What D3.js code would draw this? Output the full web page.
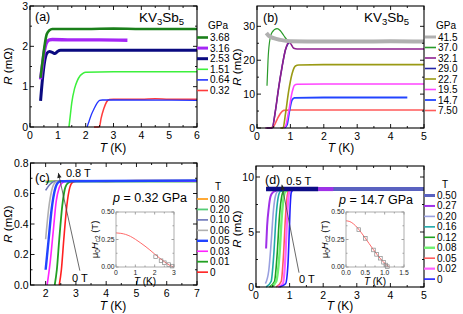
<!DOCTYPE html>
<html><head><meta charset="utf-8">
<script src="https://cdn.jsdelivr.net/npm/d3@7"></script>
<style>
body{margin:0;background:#fff;}
svg{display:block;font-family:"Liberation Sans",Arial,sans-serif;}
</style></head>
<body><svg id="c" width="463" height="314"></svg>
<script>
// ---------- DATA ----------
// Panel (a): R (mOhm) vs T (K) at several pressures (GPa)
const aLabels = ["3.68","3.16","2.53","1.51","0.64","0.32"];
const aColors = ["#1a7f1a","#a526f5","#0a0a80","#3cf03c","#2233ff","#ff3b3b"];
const aWidths = [2.6,3.4,3.0,1.5,1.3,1.5];
const a368 = [[0.38,1.22],[0.45,1.62],[0.52,2.0],[0.6,2.3],[0.7,2.4],[0.8,2.43],[1,2.43],[2,2.43],[3,2.44],[4,2.43],[5,2.43],[6,2.43]];
const a316 = [[0.38,1.18],[0.45,1.55],[0.52,1.9],[0.6,2.1],[0.7,2.16],[0.8,2.17],[1.5,2.16],[2.5,2.16],[3.5,2.15]];
const a253 = [[0.38,0.65],[0.45,1.2],[0.52,1.6],[0.6,1.82],[0.7,1.87],[0.8,1.85],[0.9,1.82],[1.0,1.88],[1.1,1.9],[2,1.9],[4,1.9],[6,1.9]];
const a151 = [[1.4,0],[1.45,0.3],[1.5,0.6],[1.6,0.95],[1.7,1.15],[1.8,1.27],[1.9,1.33],[2.0,1.36],[3,1.37],[6,1.37]];
const a064 = [[2.05,0],[2.1,0.1],[2.2,0.3],[2.3,0.45],[2.4,0.58],[2.5,0.66],[2.6,0.67],[3,0.67],[6,0.66]];
const a032 = [[2.3,0],[2.45,0],[2.5,0.02],[2.55,0.2],[2.65,0.45],[2.75,0.62],[2.85,0.68],[3,0.69],[4,0.69],[4.5,0.7],[5,0.69],[6,0.69]];
const aSeries = [a368,a316,a253,a151,a064,a032];
const aXTicks = [0,1,2,3,4,5,6];
const aYTicks = [0,1,2,3];

// Panel (b)
const bLabels = ["41.5","37.0","32.1","29.0","22.7","19.5","14.7","7.50"];
const bColors = ["#b0b0b0","#2a9a2a","#8e1f8e","#2424a8","#9a9a14","#ff44ff","#2244ff","#ff5a5a"];
const bWidths = [4,1.2,1.6,1.4,1.6,1.6,1.8,1.6];
const b415 = [[0.28,28],[0.35,27.2],[0.5,26.5],[0.7,26],[1.0,25.6],[2,25.5],[3,25.5],[4,25.6],[5,25.5]];
const b370 = [[0.3,12.5],[0.33,20],[0.37,25],[0.45,28.2],[0.6,29.3],[0.7,28.7],[0.8,27.3],[0.9,26],[1.0,25.5],[1.5,25.4]];
const b321 = [[0.25,0],[0.45,0],[0.55,5],[0.65,12],[0.75,18],[0.85,23],[0.95,25.3],[1.0,25],[1.1,23.5],[1.2,23.3],[2,23.3],[5,23.3]];
const b290 = [[0.3,0],[0.45,0],[0.55,5],[0.65,12],[0.75,18],[0.85,23],[0.95,25.2]];
const b227 = [[0.7,0],[0.78,0],[0.85,4],[0.95,11],[1.05,16],[1.15,18.3],[1.25,18.6],[2,18.7],[5,18.7]];
const b195 = [[0.75,0],[0.85,0.5],[0.95,5],[1.05,10.5],[1.12,12.6],[1.2,12.9],[2,13],[5,13]];
const b147 = [[0.82,0],[0.9,1],[0.97,5],[1.05,8.3],[1.12,8.9],[2,9],[4.5,9]];
const b750 = [[0.4,0],[0.5,0.5],[0.6,2.5],[0.7,4.3],[0.8,5.2],[1,5.3],[5,5.3]];
const bSeries = [b415,b370,b321,b290,b227,b195,b147,b750];
const bXTicks = [0,1,2,3,4,5];
const bYTicks = [0,10,20,30];

// Panel (c): p = 0.32 GPa, fields (T)
const cLabels = ["0.80","0.20","0.10","0.06","0.05","0.03","0.01","0"];
const cColors = ["#ffa020","#55cc77","#6a74b8","#b0b0b0","#2244ff","#ff22ff","#22a022","#ff2020"];
const cWidths = [1.8,1.8,1.6,1.6,2.4,1.6,1.8,1.6];
const c080 = [[2.0,0.68],[3,0.685],[4,0.68],[5,0.685],[6,0.685],[7,0.685]];
const c020 = [[2.0,0.675],[2.2,0.68],[7,0.68]];
const c010 = [[2.0,0.62],[2.1,0.65],[2.2,0.67],[2.3,0.68],[7,0.68]];
const c006 = [[2.0,0.3],[2.1,0.5],[2.2,0.62],[2.3,0.67],[2.4,0.68],[7,0.68]];
const c005 = [[2.0,0.1],[2.1,0.3],[2.2,0.5],[2.3,0.62],[2.4,0.67],[2.5,0.68],[7,0.685]];
const c003 = [[2.05,0],[2.15,0.15],[2.25,0.35],[2.35,0.55],[2.45,0.64],[2.55,0.67],[2.7,0.68],[7,0.68]];
const c001 = [[2.3,0],[2.37,0.1],[2.45,0.3],[2.55,0.52],[2.65,0.64],[2.75,0.67],[2.9,0.68],[7,0.68]];
const c000 = [[2.45,0],[2.52,0.1],[2.6,0.3],[2.7,0.52],[2.8,0.64],[2.9,0.675],[3.0,0.68],[7,0.68]];
const cSeries = [c080,c020,c010,c006,c005,c003,c001,c000];
const cXTicks = [2,3,4,5,6,7];
const cYTicks = [0,0.2,0.4,0.6,0.8];
const cHc2Curve = [[0,0.31],[0.25,0.306],[0.5,0.296],[0.75,0.278],[1.0,0.252],[1.25,0.222],[1.5,0.19],[1.75,0.155],[2.0,0.118],[2.25,0.082],[2.5,0.048],[2.75,0.018],[3.0,0]];
const cHc2Pts = [[2.05,0.094],[2.33,0.057],[2.5,0.039],[2.73,0.022],[2.9,0.008]];
const cInXTicks = [0,1,2,3];

// Panel (d): p = 14.7 GPa
const dLabels = ["0.50","0.27","0.20","0.16","0.12","0.08","0.05","0.02","0"];
const dColors = ["#5a62c0","#a030e8","#9aa0e0","#20a8a8","#20a020","#70f070","#ff5c5c","#ff60ff","#2020ff"];
const dWidths = [4,2,1.6,1.6,1.6,2.4,1.6,2.2,1.6];
const d050 = [[0.3,8.9],[1,8.9],[2,8.9],[3,8.9],[4,8.9],[5,8.9]];
const d050lo = [[0.3,8.9],[1,8.9],[1.85,8.9]];
const d027 = [[0.3,3.5],[0.33,5.5],[0.38,7.2],[0.43,8.2],[0.5,8.6],[0.6,8.75],[1,8.85],[1.85,8.9],[2.3,8.9]];
const d020 = [[0.28,0.3],[0.38,1.5],[0.45,4],[0.52,7],[0.58,8.3],[0.65,8.7],[0.8,8.75]];
const d016 = [[0.3,0],[0.45,0.5],[0.53,3],[0.6,6.5],[0.67,8.3],[0.73,8.7],[0.85,8.75]];
const d012 = [[0.4,0],[0.55,0.5],[0.63,3],[0.7,6.5],[0.77,8.3],[0.82,8.7],[0.9,8.75]];
const d008 = [[0.45,0],[0.6,0.5],[0.7,3],[0.77,6.5],[0.83,8.3],[0.88,8.7],[0.95,8.75]];
const d005 = [[0.6,0],[0.75,0.5],[0.82,3],[0.88,6.5],[0.93,8.3],[0.97,8.7],[1.05,8.75]];
const d002 = [[0.65,0],[0.8,0.3],[0.88,3],[0.93,6.5],[0.97,8.3],[1.0,8.7],[1.05,8.75]];
const d000 = [[0.7,0],[0.88,0.3],[0.95,2],[0.99,5],[1.02,7.5],[1.05,8.6],[1.1,8.8]];
const dSeries = [d050,d027,d020,d016,d012,d008,d005,d002,d000];
const dXTicks = [0,1,2,3,4,5];
const dYTicks = [0,5,10];
const dHc2Curve = [[0,0.42],[0.1,0.413],[0.2,0.39],[0.3,0.355],[0.4,0.31],[0.5,0.262],[0.6,0.212],[0.7,0.162],[0.8,0.115],[0.9,0.072],[1.0,0.034],[1.1,0.004],[1.12,0]];
const dHc2Pts = [[0.33,0.34],[0.5,0.26],[0.71,0.155],[0.79,0.115],[0.89,0.08],[0.97,0.043],[1.03,0.018],[1.07,0.003]];
const dInXTicks = [0,0.5,1.0,1.5];
const inYTicks = [0,0.25,0.5];

// ---------- DRAW ----------
const svg = d3.select("#c");
const FONT = 10.5;
const LFONT = 10;

function frame(g, x, y, xt, yt, fx, fy, opts) {
  const o = Object.assign({tick:4, minor:2, fs:FONT, col:"#000", lw:1.1, xm:null, ym:null, xoff:1.5, ypad:2}, opts||{});
  const [x0,x1] = x.range(), [y0,y1] = y.range();
  const minorX = o.xm || [], minorY = o.ym || [];
  const tg = g.append("g").attr("stroke", o.col).attr("stroke-width", 0.9);
  xt.forEach(v => {
    tg.append("line").attr("x1",x(v)).attr("x2",x(v)).attr("y1",y0).attr("y2",y0-o.tick);
    tg.append("line").attr("x1",x(v)).attr("x2",x(v)).attr("y1",y1).attr("y2",y1+o.tick);
  });
  minorX.forEach(v => {
    tg.append("line").attr("x1",x(v)).attr("x2",x(v)).attr("y1",y0).attr("y2",y0-o.minor);
    tg.append("line").attr("x1",x(v)).attr("x2",x(v)).attr("y1",y1).attr("y2",y1+o.minor);
  });
  yt.forEach(v => {
    tg.append("line").attr("y1",y(v)).attr("y2",y(v)).attr("x1",x0).attr("x2",x0+o.tick);
    tg.append("line").attr("y1",y(v)).attr("y2",y(v)).attr("x1",x1).attr("x2",x1-o.tick);
  });
  minorY.forEach(v => {
    tg.append("line").attr("y1",y(v)).attr("y2",y(v)).attr("x1",x0).attr("x2",x0+o.minor);
    tg.append("line").attr("y1",y(v)).attr("y2",y(v)).attr("x1",x1).attr("x2",x1-o.minor);
  });
  g.append("rect").attr("x",x0).attr("y",y1).attr("width",x1-x0).attr("height",y0-y1)
    .attr("fill","none").attr("stroke",o.col).attr("stroke-width",o.lw);
  g.selectAll(null).data(xt).enter().append("text")
    .attr("x",d=>x(d)).attr("y",y0+o.fs+o.xoff).attr("text-anchor","middle")
    .attr("font-size",o.fs).text(fx);
  g.selectAll(null).data(yt).enter().append("text")
    .attr("x",x0-o.ypad).attr("y",d=>y(d)).attr("dy","0.35em").attr("text-anchor","end")
    .attr("font-size",o.fs).text(fy);
}

function mids(t){ const r=[]; for(let i=0;i<t.length-1;i++) r.push((t[i]+t[i+1])/2); return r; }

function series(g, x, y, data, color, w) {
  const line = d3.line().x(d=>x(d[0])).y(d=>y(d[1])).curve(d3.curveMonotoneX);
  g.append("path").attr("d", line(data)).attr("fill","none")
    .attr("stroke",color).attr("stroke-width",w).attr("stroke-linejoin","round");
}

function legend(g, xStart, yHead, y0, dy, header, labels, colors, widths) {
  g.append("text").attr("x", xStart+21).attr("y", yHead).attr("dy","0.35em")
    .attr("text-anchor","middle").attr("font-size",LFONT).text(header);
  labels.forEach((l,i) => {
    const yy = y0 + i*dy;
    g.append("line").attr("x1",xStart).attr("x2",xStart+11).attr("y1",yy).attr("y2",yy)
      .attr("stroke",colors[i]).attr("stroke-width",Math.max(1.6,Math.min(3,widths[i])));
    g.append("text").attr("x",xStart+13).attr("y",yy).attr("dy","0.35em")
      .attr("font-size",LFONT).text(l);
  });
}

function xTitle(g, cx, yy) {
  const t = g.append("text").attr("x",cx).attr("y",yy).attr("text-anchor","middle").attr("font-size",12);
  t.append("tspan").attr("font-style","italic").text("T");
  t.append("tspan").text(" (K)");
}
function yTitle(g, xx, cy) {
  const t = g.append("text").attr("transform",`translate(${xx},${cy}) rotate(-90)`)
    .attr("text-anchor","middle").attr("font-size",11.5);
  t.append("tspan").attr("font-style","italic").text("R");
  t.append("tspan").text(" (mΩ)");
}
function kvs(g, xx, yy) {
  const t = g.append("text").attr("x",xx).attr("y",yy).attr("font-size",13.5);
  t.append("tspan").text("KV");
  t.append("tspan").attr("font-size",9.5).attr("dy",3).text("3");
  t.append("tspan").attr("dy",-3).text("Sb");
  t.append("tspan").attr("font-size",9.5).attr("dy",3).text("5");
}
function arrow(g, x1,y1,x2,y2) {
  g.append("line").attr("x1",x1).attr("y1",y1).attr("x2",x2).attr("y2",y2)
    .attr("stroke","#444").attr("stroke-width",0.8);
  const ang = Math.atan2(y2-y1,x2-x1);
  const L=5, Wd=2.2;
  const p = [[x2,y2],
    [x2-L*Math.cos(ang)+Wd*Math.sin(ang), y2-L*Math.sin(ang)-Wd*Math.cos(ang)],
    [x2-L*Math.cos(ang)-Wd*Math.sin(ang), y2-L*Math.sin(ang)+Wd*Math.cos(ang)]];
  g.append("path").attr("d","M"+p.map(q=>q.join(",")).join("L")+"Z").attr("fill","#222");
}
function pText(g, xx, yy, val) {
  const t = g.append("text").attr("x",xx).attr("y",yy).attr("font-size",12.5);
  t.append("tspan").attr("font-style","italic").text("p");
  t.append("tspan").text(" = " + val + " GPa");
}
function inset(g, x, y, xt, fx, curve, pts) {
  g.append("rect").attr("x",x.range()[0]).attr("y",y.range()[1])
    .attr("width",x.range()[1]-x.range()[0]).attr("height",y.range()[0]-y.range()[1]).attr("fill","#fff");
  series(g, x, y, curve, "#ff6a6a", 1);
  g.selectAll(null).data(pts).enter().append("rect")
    .attr("x",d=>x(d[0])-1.8).attr("y",d=>y(d[1])-1.8).attr("width",3.6).attr("height",3.6)
    .attr("fill","none").attr("stroke","#888").attr("stroke-width",0.7);
  frame(g, x, y, xt, inYTicks, fx, d3.format(".2f"), {tick:2.5, minor:1.5, fs:6.8, col:"#999", lw:0.8,
     xm: mids(xt), ym: mids(inYTicks), xoff:1.6, ypad:1.5});
  g.selectAll("text").attr("fill","#222");
  const [x0,x1]=x.range(), [y0,y1]=y.range();
  const t = g.append("text").attr("x",(x0+x1)/2).attr("y",y0+17.5).attr("text-anchor","middle").attr("font-size",10);
  t.append("tspan").attr("font-style","italic").text("T");
  t.append("tspan").text(" (K)");
  const yl = g.append("text").attr("transform",`translate(${x0-18.5},${(y0+y1)/2}) rotate(-90)`)
    .attr("text-anchor","middle").attr("font-size",9.5);
  yl.append("tspan").text("μ");
  yl.append("tspan").attr("font-size",6.5).attr("dy",2).text("0");
  yl.append("tspan").attr("dy",-2).attr("font-style","italic").text("H");
  yl.append("tspan").attr("font-size",6.5).attr("dy",2).text("c2");
  yl.append("tspan").attr("dy",-2).text(" (T)");
}

// ---- Panel (a)
{
  const g = svg.append("g");
  const x = d3.scaleLinear().domain([0,6]).range([30,197]);
  const y = d3.scaleLinear().domain([0,3]).range([127,6]);
  const order = [5,4,3,2,1,0];
  order.forEach(i => series(g,x,y,aSeries[i],aColors[i],aWidths[i]));
  frame(g,x,y,aXTicks,aYTicks,d3.format("d"),d3.format("d"),{xm:mids(aXTicks), ym:mids(aYTicks)});
  legend(g,197,25.5,37.5,10.6,"GPa",aLabels,aColors,aWidths);
  xTitle(g,113,152); yTitle(g,12,66);
  g.append("text").attr("x",35).attr("y",21).attr("font-size",12.5).text("(a)");
  kvs(g,139,22);
}
// ---- Panel (b)
{
  const g = svg.append("g");
  const x = d3.scaleLinear().domain([0,5]).range([257,424]);
  const y = d3.scaleLinear().domain([0,36]).range([128,6]);
  const order = [3,7,6,5,4,2,1,0];
  order.forEach(i => series(g,x,y,bSeries[i],bColors[i],bWidths[i]));
  frame(g,x,y,bXTicks,bYTicks,d3.format("d"),d3.format("d"),{xm:mids(bXTicks), ym:mids(bYTicks)});
  legend(g,425,25,37,10.5,"GPa",bLabels,bColors,bWidths);
  xTitle(g,341,152); yTitle(g,241,67);
  g.append("text").attr("x",263).attr("y",22).attr("font-size",12.5).text("(b)");
  kvs(g,364,22);
}
// ---- Panel (c)
{
  const g = svg.append("g");
  const x = d3.scaleLinear().domain([1.5,7]).range([30.5,197]);
  const y = d3.scaleLinear().domain([0,0.8]).range([285,163]);
  const order = [0,1,2,3,7,6,5,4];
  order.forEach(i => series(g,x,y,cSeries[i],cColors[i],cWidths[i]));
  frame(g,x,y,cXTicks,cYTicks,d3.format("d"),d3.format(".1f"),{xm:[1.5].concat(mids(cXTicks)), ym:mids(cYTicks)});
  legend(g,197,186,199,10.45,"T",cLabels,cColors,cWidths);
  xTitle(g,113,310); yTitle(g,12,224);
  g.append("text").attr("x",35).attr("y",182).attr("font-size",12.5).text("(c)");
  g.append("text").attr("x",x(2.67)).attr("y",y(0.706)).attr("font-size",11).text("0.8 T");
  g.append("text").attr("x",x(2.87)).attr("y",y(0.02)).attr("font-size",11).text("0 T");
  arrow(g, x(3.13), y(0.094), x(2.42), y(0.735));
  pText(g,113,202,"0.32");
  const ig = g.append("g");
  inset(ig, d3.scaleLinear().domain([0,3]).range([116,174]), d3.scaleLinear().domain([0,0.5]).range([267,212]),
        cInXTicks, d3.format("d"), cHc2Curve, cHc2Pts);
}
// ---- Panel (d)
{
  const g = svg.append("g");
  const x = d3.scaleLinear().domain([0,5]).range([256,424]);
  const y = d3.scaleLinear().domain([0,11]).range([287,166]);
  const order = [0,1,2,3,4,5,6,7,8];
  order.forEach(i => series(g,x,y,dSeries[i],dColors[i],dWidths[i]));
  series(g,x,y,d050lo,"#0c0c86",4.5);
  series(g,x,y,d027.slice(-2),dColors[1],4);
  frame(g,x,y,dXTicks,dYTicks,d3.format("d"),d3.format("d"),{xm:mids(dXTicks), ym:[2.5,7.5]});
  legend(g,424,184,195.5,10.45,"T",dLabels,dColors,dWidths);
  xTitle(g,340,310); yTitle(g,241,229);
  g.append("text").attr("x",265).attr("y",184).attr("font-size",12.5).text("(d)");
  g.append("text").attr("x",x(0.9)).attr("y",y(9.3)).attr("font-size",11).text("0.5 T");
  g.append("text").attr("x",x(1.28)).attr("y",y(0.36)).attr("font-size",11).text("0 T");
  arrow(g, x(1.28), y(1.3), x(0.77), y(9.3));
  pText(g,339,204,"14.7");
  const ig = g.append("g");
  inset(ig, d3.scaleLinear().domain([0,1.5]).range([346,404]), d3.scaleLinear().domain([0,0.5]).range([267,212]),
        dInXTicks, d3.format(".1f"), dHc2Curve, dHc2Pts);
}
</script>
</body></html>
